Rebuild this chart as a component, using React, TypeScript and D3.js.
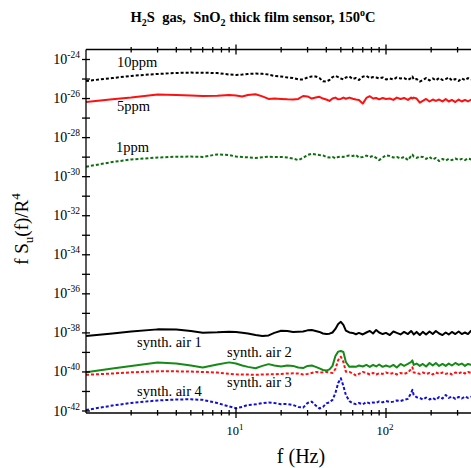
import React from 'react';
import * as d3 from 'd3';

// frequency grid (Hz) shared by all traces
const freqs = [1, 1.5, 2, 3, 4, 5, 6, 7.5, 9, 10, 11, 12, 13.5, 15, 16.5, 18, 20, 22, 24, 26, 28, 30, 32, 34, 36, 38, 40, 42, 44, 46, 48, 50, 52, 54, 57, 60, 63, 66, 70, 74, 78, 82, 86, 90, 95, 100, 106, 112, 118, 125, 132, 140, 147, 150, 153, 160, 168, 176, 185, 195, 205, 215, 226, 238, 250, 262, 275, 290, 305, 320, 336, 352, 370];

// log10 of f*Su(f)/R^4
const ppm10 = [-25.10, -24.95, -24.84, -24.74, -24.69, -24.67, -24.68, -24.69, -24.77, -24.79, -24.77, -24.74, -24.72, -24.73, -24.77, -24.84, -24.87, -24.92, -24.95, -25.02, -25.02, -24.92, -24.87, -24.87, -24.95, -25.12, -25.13, -25.05, -24.90, -24.84, -24.90, -24.97, -25.02, -24.92, -24.87, -25.00, -24.95, -25.05, -24.88, -24.84, -24.95, -24.90, -24.92, -24.97, -24.92, -25.02, -24.97, -25.02, -24.92, -24.97, -24.95, -25.05, -24.95, -24.87, -25.02, -25.00, -25.13, -25.05, -24.95, -25.07, -24.97, -25.07, -24.95, -25.05, -25.00, -24.92, -25.07, -25.00, -25.10, -24.97, -25.05, -24.95, -25.02];
const ppm5 = [-26.18, -26.04, -25.95, -25.79, -25.82, -25.84, -25.87, -25.86, -25.82, -25.84, -25.89, -25.82, -25.78, -25.89, -26.02, -26.00, -26.02, -26.04, -26.05, -26.02, -25.87, -25.89, -26.00, -25.95, -25.91, -26.00, -26.05, -26.12, -26.00, -25.95, -26.04, -26.02, -25.95, -26.01, -25.95, -26.01, -26.05, -26.07, -26.26, -25.97, -25.88, -26.00, -25.97, -26.04, -25.97, -26.02, -26.00, -26.07, -25.95, -26.02, -25.97, -26.07, -25.95, -26.00, -25.95, -26.00, -26.21, -26.12, -26.02, -26.15, -26.05, -26.12, -26.05, -26.15, -26.02, -26.15, -26.07, -26.18, -26.05, -26.15, -26.07, -26.15, -26.05];
const ppm1 = [-29.49, -29.25, -29.12, -29.02, -28.98, -28.97, -28.99, -28.86, -28.89, -28.97, -28.99, -29.01, -29.04, -29.01, -28.98, -28.99, -28.99, -29.02, -29.07, -29.15, -29.04, -28.89, -28.83, -28.86, -28.89, -28.91, -28.99, -29.02, -28.99, -29.06, -28.99, -28.97, -28.99, -28.94, -28.92, -28.94, -28.89, -29.02, -28.99, -28.92, -28.99, -28.94, -29.04, -29.15, -29.02, -28.91, -28.94, -29.02, -28.99, -29.07, -28.99, -29.15, -28.94, -28.87, -28.97, -29.04, -28.97, -28.99, -29.09, -28.99, -29.12, -29.04, -29.20, -29.09, -29.17, -29.09, -29.15, -29.07, -29.15, -29.09, -29.15, -29.07, -29.12];
const air1 = [-38.16, -38.03, -37.93, -37.82, -37.83, -37.90, -37.99, -37.97, -37.94, -37.95, -37.99, -38.03, -38.11, -38.16, -38.13, -38.00, -37.89, -37.90, -37.95, -37.94, -37.93, -37.87, -37.85, -37.90, -37.95, -38.03, -38.06, -38.04, -37.98, -37.80, -37.54, -37.43, -37.59, -37.88, -37.98, -38.00, -38.07, -38.00, -38.08, -37.98, -37.90, -38.03, -37.85, -37.98, -38.06, -38.00, -38.11, -37.93, -38.00, -38.08, -37.95, -38.06, -37.90, -37.98, -38.08, -37.95, -38.11, -37.95, -38.08, -37.93, -38.06, -37.90, -38.03, -38.11, -37.98, -38.08, -37.95, -38.06, -37.93, -38.06, -37.98, -38.06, -37.88];
const air2 = [-40.02, -39.82, -39.69, -39.52, -39.57, -39.67, -39.77, -39.62, -39.51, -39.57, -39.67, -39.74, -39.81, -39.69, -39.60, -39.67, -39.72, -39.67, -39.69, -39.77, -39.80, -39.69, -39.67, -39.74, -39.82, -39.90, -39.93, -39.87, -39.69, -39.18, -38.96, -38.93, -38.98, -39.49, -39.74, -39.72, -39.74, -39.67, -39.72, -39.64, -39.74, -39.64, -39.72, -39.62, -39.74, -39.67, -39.74, -39.64, -39.77, -39.59, -39.69, -39.59, -39.49, -39.41, -39.64, -39.57, -39.69, -39.59, -39.72, -39.54, -39.67, -39.54, -39.69, -39.59, -39.69, -39.57, -39.67, -39.54, -39.64, -39.57, -39.69, -39.59, -39.64];
const air3 = [-40.15, -40.08, -40.02, -39.97, -39.97, -39.98, -40.00, -40.03, -40.10, -40.12, -40.13, -40.13, -40.15, -40.13, -40.12, -40.12, -40.10, -40.08, -40.07, -40.08, -40.13, -40.10, -40.05, -40.00, -40.03, -40.02, -40.00, -40.03, -40.05, -39.85, -39.39, -39.22, -39.49, -39.99, -40.00, -40.08, -40.18, -40.10, -40.00, -40.05, -40.13, -40.05, -40.13, -40.07, -40.10, -40.03, -40.10, -40.05, -40.13, -40.05, -40.10, -40.03, -39.85, -39.76, -40.03, -40.05, -40.10, -40.03, -40.10, -40.05, -40.13, -40.03, -40.10, -40.03, -40.10, -40.05, -40.13, -40.03, -40.08, -40.00, -40.08, -40.00, -40.05];
const air4 = [-41.95, -41.72, -41.59, -41.46, -41.41, -41.40, -41.43, -41.59, -41.77, -41.86, -41.79, -41.69, -41.66, -41.60, -41.56, -41.59, -41.65, -41.64, -41.69, -41.79, -41.83, -41.59, -41.52, -41.72, -41.87, -41.79, -41.61, -41.56, -41.43, -41.08, -40.57, -40.32, -40.72, -41.18, -41.49, -41.60, -41.65, -41.59, -41.66, -41.54, -41.61, -41.56, -41.59, -41.51, -41.56, -41.49, -41.54, -41.52, -41.46, -41.49, -41.43, -41.38, -41.08, -40.92, -41.18, -41.30, -41.33, -41.41, -41.31, -41.41, -41.33, -41.43, -41.28, -41.36, -41.18, -41.33, -41.26, -41.38, -41.28, -41.36, -41.26, -41.33, -41.27];

const yDecades = d3.range(-24, -43, -1);
const yLabelled = [-24, -26, -28, -30, -32, -34, -36, -38, -40, -42];
const xMajor = [10, 100];
const xMinor = [2, 3, 4, 5, 6, 7, 8, 9, 20, 30, 40, 50, 60, 70, 80, 90, 200, 300];

const traces = [
  { values: ppm10, color: '#000000', dash: '3,2' },
  { values: ppm5, color: '#ff1010', dash: null },
  { values: ppm1, color: '#0d6e0d', dash: '3,2' },
  { values: air1, color: '#000000', dash: null },
  { values: air2, color: '#168a16', dash: null },
  { values: air3, color: '#ff1010', dash: '3,2' },
  { values: air4, color: '#1010d8', dash: '3,2' },
];

const labels = [
  { text: '10ppm', x: 117, y: 67 },
  { text: '5ppm', x: 117, y: 111 },
  { text: '1ppm', x: 116, y: 152 },
  { text: 'synth. air 1', x: 137, y: 347 },
  { text: 'synth. air 2', x: 227, y: 357 },
  { text: 'synth. air 3', x: 227, y: 387 },
  { text: 'synth. air 4', x: 137, y: 396 },
];

const W = 471;
const H = 468;
const left = 86;
const top = 49.5;
const bottom = 413;

export default function App() {
  const x = d3.scaleLog().domain([1, 100]).range([left, 386]);
  const y = d3.scaleLog().domain([1e-24, 1e-42]).range([59.5, 411]);

  const line = d3.line<number>()
    .x((_, i) => x(freqs[i]))
    .y(v => y(Math.pow(10, v)));

  return (
    <svg width={W} height={H}
      style={{ position: 'absolute', left: 0, top: 0, background: '#fff', fontFamily: 'Liberation Serif, serif' }}>
      <defs>
        <clipPath id="plot">
          <rect x={left} y={top} width={W - left} height={bottom - top} />
        </clipPath>
      </defs>

      {/* title */}
      <text x={253} y={22} textAnchor="middle" fontWeight="bold" fontSize={14.5} style={{ whiteSpace: 'pre' }}>
        H<tspan fontSize={10} dy={4}>2</tspan><tspan dy={-4}>S  gas,  SnO</tspan><tspan fontSize={10} dy={4}>2</tspan><tspan dy={-4}> thick film sensor, 150</tspan><tspan fontSize={10} dy={-6}>o</tspan><tspan dy={6}>C</tspan>
      </text>

      {/* traces */}
      <g clipPath="url(#plot)" fill="none">
        {traces.map((t, i) => (
          <path key={i} d={line(t.values) ?? ''} stroke={t.color} strokeWidth={2}
            strokeDasharray={t.dash ?? undefined} strokeLinejoin="round" />
        ))}
      </g>

      {/* frame */}
      <g stroke="#000" strokeWidth={1.3}>
        <line x1={left} x2={left} y1={top} y2={bottom} />
        <line x1={left} x2={W} y1={top} y2={top} />
        <line x1={left} x2={W} y1={bottom} y2={bottom} />
        {yDecades.map(e => (
          <line key={e} x1={left - 4} x2={left + 4} y1={y(Math.pow(10, e))} y2={y(Math.pow(10, e))} />
        ))}
        {xMajor.map(f => (
          <g key={f}>
            <line x1={x(f)} x2={x(f)} y1={top - 5} y2={top + 5} />
            <line x1={x(f)} x2={x(f)} y1={bottom - 5} y2={bottom + 5} />
          </g>
        ))}
        {xMinor.map(f => (
          <g key={f}>
            <line x1={x(f)} x2={x(f)} y1={top - 2.5} y2={top + 3} />
            <line x1={x(f)} x2={x(f)} y1={bottom - 3} y2={bottom + 2.5} />
          </g>
        ))}
      </g>

      {/* y tick labels */}
      {yLabelled.map(e => (
        <text key={e} x={80} y={y(Math.pow(10, e)) + 4.5} textAnchor="end" fontSize={14}>
          10<tspan fontSize={9.5} dy={-6}>{String(e)}</tspan>
        </text>
      ))}

      {/* x tick labels */}
      {xMajor.map(f => (
        <text key={f} x={x(f) - 1} y={435} textAnchor="middle" fontSize={12.5}>
          10<tspan fontSize={9} dy={-5}>{Math.round(Math.log10(f))}</tspan>
        </text>
      ))}

      {/* series labels */}
      {labels.map(l => (
        <text key={l.text} x={l.x} y={l.y} fontSize={14.5}>{l.text}</text>
      ))}

      {/* axis titles */}
      <text x={301} y={463} textAnchor="middle" fontSize={20}>f (Hz)</text>
      <text transform="translate(28,229) rotate(-90)" textAnchor="middle" fontSize={19}>
        f S<tspan fontSize={13} dy={5}>u</tspan><tspan dy={-5}>(f)/R</tspan><tspan fontSize={13} dy={-8}>4</tspan>
      </text>
    </svg>
  );
}
